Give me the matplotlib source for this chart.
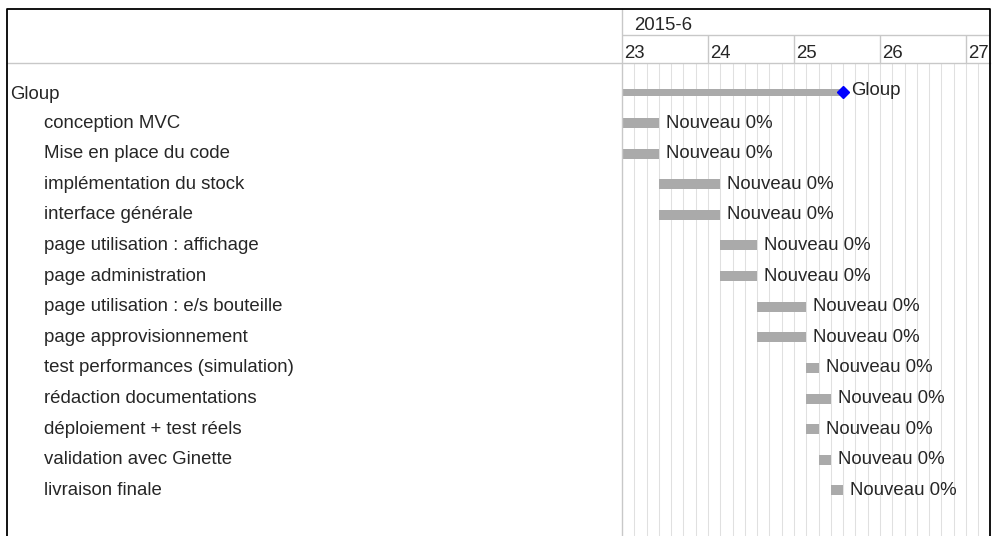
import numpy as np
import matplotlib
matplotlib.use("Agg")
import matplotlib.pyplot as plt
from matplotlib.lines import Line2D

plt.rcParams['font.family'] = ['Liberation Sans', 'DejaVu Sans']

# --- data -------------------------------------------------------------
project = "Gloup"
month_label = "2015-6"
days = [23, 24, 25, 26, 27]
slots_per_day = 7

tasks = [
    "conception MVC",
    "Mise en place du code",
    "implémentation du stock",
    "interface générale",
    "page utilisation : affichage",
    "page administration",
    "page utilisation : e/s bouteille",
    "page approvisionnement",
    "test performances (simulation)",
    "rédaction documentations",
    "déploiement + test réels",
    "validation avec Ginette",
    "livraison finale",
]
# start / end in slots (1/7 of a day) counted from day 23
task_start = [0, 0, 3, 3, 8, 8, 11, 11, 15, 15, 15, 16, 17]
task_end = [3, 3, 8, 8, 11, 11, 15, 15, 16, 17, 16, 17, 18]
task_status = ["Nouveau"] * len(tasks)
task_done = [0] * len(tasks)
project_start = 0
project_end = 18

# --- layout (pixels of a 994x536 canvas) ------------------------------
W, H = 994, 536
X_LEFT, X_SPLIT, X_RIGHT = 7, 622, 990
Y_TOP, Y_MONTH, Y_HEAD = 9, 35, 63
ROW0, ROW_H = 92.5, 30.6
SLOT_PX = 86 / slots_per_day

TXT = '#262626'
GRID = '#e0e0e0'
LINE = '#c8c8c8'
BAR = '#aaaaaa'
FS = 13.4


def fx(px):
    return px / W


def fy(py):
    return 1 - py / H


fig = plt.figure(figsize=(W / 100, H / 100), dpi=100)

xmax = (X_RIGHT - X_SPLIT) / SLOT_PX
ytop = (Y_HEAD - ROW0) / ROW_H
ybot = (H - ROW0) / ROW_H

# chart area
ax = fig.add_axes([fx(X_SPLIT), 0, fx(X_RIGHT) - fx(X_SPLIT), fy(Y_HEAD)])
ax.set_xlim(0, xmax)
ax.set_ylim(ybot, ytop)
ax.axis('off')

n_slots = int(np.floor(xmax)) + 1
ax.vlines(np.arange(1, n_slots), ybot, ytop, color=GRID, lw=0.75, zorder=0)

rows = np.arange(1, len(tasks) + 1)
starts = np.array(task_start)
ends = np.array(task_end)
ax.barh(rows, ends - starts, left=starts, height=10 / ROW_H, color=BAR, zorder=2)
for r, e, st, d in zip(rows, ends, task_status, task_done):
    ax.annotate(f"{st} {d}%", xy=(e, r), xytext=(5, 0), textcoords='offset points',
                va='center', ha='left', fontsize=FS, color=TXT, zorder=3)

# project summary bar + milestone
ax.barh(0, project_end - project_start, left=project_start, height=7.5 / ROW_H,
        color=BAR, zorder=2)
ax.plot(project_end, 0, marker='D', ms=6.6, color='#0000ff', zorder=3)
ax.annotate(project, xy=(project_end, 0), xytext=(5.5, 1.5), textcoords='offset points',
            va='center', ha='left', fontsize=FS, color=TXT, zorder=3)

# header (month + days)
hdr = fig.add_axes([fx(X_SPLIT), fy(Y_HEAD), fx(X_RIGHT) - fx(X_SPLIT), fy(Y_TOP) - fy(Y_HEAD)])
hdr.set_xlim(0, xmax)
hdr.set_ylim(Y_HEAD, Y_TOP)
hdr.axis('off')
hdr.hlines(Y_MONTH, 0, xmax, color=LINE, lw=1)
day_x = [(d - days[0]) * slots_per_day for d in days]
hdr.vlines(day_x[1:], Y_MONTH, Y_HEAD, color=LINE, lw=1)
for d, x in zip(days, day_x):
    hdr.annotate(str(d), xy=(x, (Y_MONTH + Y_HEAD) / 2 + 4), xytext=(1.5, 0),
                 textcoords='offset points', va='center', ha='left',
                 fontsize=FS, color=TXT, annotation_clip=False)
hdr.annotate(month_label, xy=(0, (Y_TOP + Y_MONTH) / 2 + 3), xytext=(8.5, 0),
             textcoords='offset points', va='center', ha='left', fontsize=FS, color=TXT)

# left panel with subject names
left = fig.add_axes([fx(X_LEFT), 0, fx(X_SPLIT) - fx(X_LEFT), fy(Y_HEAD)])
left.set_xlim(X_LEFT, X_SPLIT)
left.set_ylim(ybot, ytop)
left.axis('off')
left.text(10, 0.05, project, va='center', ha='left', fontsize=FS, color=TXT)
for r, name in zip(rows, tasks):
    left.text(44, r, name, va='center', ha='left', fontsize=FS, color=TXT)

# frame and separators
fig.add_artist(Line2D([fx(X_LEFT), fx(X_RIGHT)], [fy(Y_HEAD), fy(Y_HEAD)], color=LINE, lw=1))
fig.add_artist(Line2D([fx(X_SPLIT), fx(X_SPLIT)], [fy(Y_TOP), 0], color=LINE, lw=1))
fig.add_artist(Line2D([fx(X_LEFT), fx(X_LEFT), fx(X_RIGHT), fx(X_RIGHT)],
                      [0, fy(Y_TOP), fy(Y_TOP), 0], color='black', lw=1.3))

fig.savefig("out.png", dpi=100)
